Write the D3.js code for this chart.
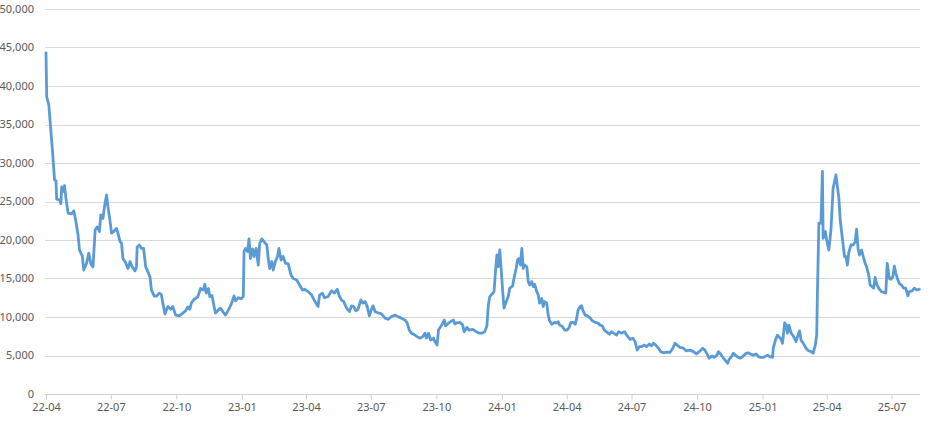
<!DOCTYPE html>
<html><head><meta charset="utf-8">
<script src="https://cdn.jsdelivr.net/npm/d3@7"></script>
<style>html,body{margin:0;padding:0;background:#fff;} svg{display:block;font-family:"Noto Sans",sans-serif;}</style>
</head><body>
<svg id="chart" width="930" height="423"></svg>
<script>
const data2022 = [["2022-04-01",44300],["2022-04-02",38600],["2022-04-05",37500],["2022-04-07",35150],["2022-04-10",31700],["2022-04-13",27800],["2022-04-15",27700],["2022-04-16",25300],["2022-04-20",25200],["2022-04-22",24700],["2022-04-23",26900],["2022-04-25",26300],["2022-04-27",27050],["2022-04-29",25400],["2022-05-02",23500],["2022-05-07",23400],["2022-05-10",23800],["2022-05-13",22400],["2022-05-16",20650],["2022-05-18",18700],["2022-05-22",17900],["2022-05-24",16100],["2022-05-28",17000],["2022-05-31",18300],["2022-06-03",16900],["2022-06-06",16500],["2022-06-09",21300],["2022-06-12",21700],["2022-06-15",21100],["2022-06-17",23250],["2022-06-20",22800],["2022-06-22",24300],["2022-06-25",25850],["2022-06-27",24300],["2022-06-30",22400],["2022-07-02",20900],["2022-07-05",21100],["2022-07-09",21500],["2022-07-11",20900],["2022-07-14",19800],["2022-07-16",19600],["2022-07-18",17600],["2022-07-22",17000],["2022-07-25",16300],["2022-07-28",17200],["2022-07-31",16500],["2022-08-04",16000],["2022-08-06",16500],["2022-08-07",19100],["2022-08-10",19350],["2022-08-13",18900],["2022-08-16",18900],["2022-08-19",16500],["2022-08-22",15900],["2022-08-25",15200],["2022-08-27",13500],["2022-08-31",12700],["2022-09-03",12700],["2022-09-07",13100],["2022-09-10",12900],["2022-09-12",11800],["2022-09-15",10400],["2022-09-19",11350],["2022-09-23",11000],["2022-09-26",11350],["2022-09-30",10250],["2022-10-05",10150],["2022-10-10",10500],["2022-10-14",10800],["2022-10-17",11300],["2022-10-20",11000],["2022-10-22",11800],["2022-10-26",12300],["2022-10-31",12600],["2022-11-04",13700],["2022-11-08",13500],["2022-11-10",14250],["2022-11-12",13100],["2022-11-15",13700],["2022-11-17",12650],["2022-11-20",12800],["2022-11-23",11350],["2022-11-25",10500],["2022-11-29",10900],["2022-12-02",11150],["2022-12-06",10600],["2022-12-09",10250],["2022-12-13",10900],["2022-12-17",11650],["2022-12-21",12750],["2022-12-23",12100],["2022-12-27",12500],["2022-12-31",12350]];

const data2023 = [["2023-01-03",12650],["2023-01-04",18500],["2023-01-06",18900],["2023-01-09",18500],["2023-01-11",20150],["2023-01-13",17600],["2023-01-16",18850],["2023-01-18",17850],["2023-01-21",18900],["2023-01-24",16750],["2023-01-26",19550],["2023-01-29",20150],["2023-02-01",19800],["2023-02-05",19350],["2023-02-07",17600],["2023-02-09",16300],["2023-02-12",17200],["2023-02-14",16100],["2023-02-17",17200],["2023-02-20",17850],["2023-02-22",18900],["2023-02-25",17400],["2023-02-28",17850],["2023-03-03",17000],["2023-03-07",16900],["2023-03-11",15450],["2023-03-14",15000],["2023-03-19",14800],["2023-03-23",14150],["2023-03-27",13500],["2023-03-30",13600],["2023-04-04",13300],["2023-04-09",12850],["2023-04-13",12100],["2023-04-18",11350],["2023-04-20",12850],["2023-04-24",13100],["2023-04-27",12500],["2023-05-02",12650],["2023-05-07",13400],["2023-05-11",13100],["2023-05-15",13600],["2023-05-18",12650],["2023-05-21",12200],["2023-05-24",12000],["2023-05-28",11150],["2023-06-01",10700],["2023-06-04",11450],["2023-06-07",11350],["2023-06-10",10800],["2023-06-13",11000],["2023-06-17",12200],["2023-06-20",11800],["2023-06-23",12000],["2023-06-26",11350],["2023-06-29",10150],["2023-07-02",11000],["2023-07-04",11450],["2023-07-07",10700],["2023-07-11",10550],["2023-07-16",10400],["2023-07-21",9850],["2023-07-25",9700],["2023-07-30",10050],["2023-08-04",10250],["2023-08-08",10050],["2023-08-13",9850],["2023-08-18",9600],["2023-08-21",9250],["2023-08-24",8300],["2023-08-27",7900],["2023-09-01",7650],["2023-09-04",7450],["2023-09-08",7250],["2023-09-12",7450],["2023-09-15",7900],["2023-09-17",7250],["2023-09-20",7900],["2023-09-23",7000],["2023-09-27",7250],["2023-09-29",6800],["2023-10-02",6350],["2023-10-04",8300],["2023-10-07",8750],["2023-10-10",9200],["2023-10-12",9600],["2023-10-14",8850],["2023-10-18",9200],["2023-10-21",9400],["2023-10-25",9600],["2023-10-27",9100],["2023-10-30",9250],["2023-11-03",9300],["2023-11-07",8950],["2023-11-09",8100],["2023-11-13",8650],["2023-11-16",8300],["2023-11-21",8400],["2023-11-26",8100],["2023-11-30",7900],["2023-12-04",7900],["2023-12-08",8100],["2023-12-11",8850],["2023-12-13",11550],["2023-12-15",12650],["2023-12-18",12950],["2023-12-21",13300],["2023-12-23",15900],["2023-12-25",18050],["2023-12-27",16550],["2023-12-29",18700],["2023-12-31",16300]];

const data2024 = [["2024-01-02",13500],["2024-01-04",11150],["2024-01-08",12200],["2024-01-10",12650],["2024-01-12",13750],["2024-01-16",14000],["2024-01-18",15000],["2024-01-21",16300],["2024-01-23",17400],["2024-01-25",17600],["2024-01-27",16750],["2024-01-29",18900],["2024-01-31",16300],["2024-02-02",16750],["2024-02-05",16550],["2024-02-07",14600],["2024-02-09",14150],["2024-02-12",14600],["2024-02-14",13950],["2024-02-16",14250],["2024-02-19",13300],["2024-02-21",12850],["2024-02-23",11800],["2024-02-26",12400],["2024-02-28",11350],["2024-03-01",12000],["2024-03-04",11800],["2024-03-06",10250],["2024-03-08",9500],["2024-03-11",9050],["2024-03-15",9300],["2024-03-18",9200],["2024-03-20",9400],["2024-03-22",8950],["2024-03-26",8750],["2024-03-29",8300],["2024-04-01",8300],["2024-04-04",8550],["2024-04-07",9300],["2024-04-10",9300],["2024-04-13",9050],["2024-04-15",9850],["2024-04-17",10900],["2024-04-20",11350],["2024-04-22",11450],["2024-04-24",10800],["2024-04-27",10250],["2024-04-30",10150],["2024-05-04",9850],["2024-05-07",9500],["2024-05-11",9300],["2024-05-15",9200],["2024-05-18",8950],["2024-05-21",8850],["2024-05-24",8300],["2024-05-28",8000],["2024-05-31",7750],["2024-06-03",8100],["2024-06-06",7900],["2024-06-10",7650],["2024-06-13",8100],["2024-06-17",7900],["2024-06-21",8100],["2024-06-25",7550],["2024-06-29",7100],["2024-07-03",7250],["2024-07-06",6800],["2024-07-09",5700],["2024-07-12",6150],["2024-07-15",6150],["2024-07-19",6350],["2024-07-22",6150],["2024-07-26",6500],["2024-07-29",6250],["2024-08-01",6600],["2024-08-04",6350],["2024-08-08",5950],["2024-08-11",5500],["2024-08-15",5350],["2024-08-19",5450],["2024-08-24",5400],["2024-08-28",5950],["2024-08-31",6600],["2024-09-03",6350],["2024-09-07",6050],["2024-09-12",5950],["2024-09-16",5600],["2024-09-21",5700],["2024-09-26",5500],["2024-09-30",5200],["2024-10-04",5500],["2024-10-09",5950],["2024-10-12",5700],["2024-10-16",5050],["2024-10-18",4650],["2024-10-22",4950],["2024-10-25",4750],["2024-10-29",5050],["2024-10-31",5500],["2024-11-03",5200],["2024-11-07",4650],["2024-11-11",4200],["2024-11-13",4000],["2024-11-15",4500],["2024-11-19",4950],["2024-11-21",5300],["2024-11-25",4950],["2024-11-28",4750],["2024-12-01",4650],["2024-12-05",4950],["2024-12-09",5300],["2024-12-12",5350],["2024-12-15",5200],["2024-12-19",5050],["2024-12-23",5200],["2024-12-26",4850],["2024-12-29",4750]];

const data2025 = [["2025-01-02",4750],["2025-01-06",4950],["2025-01-08",5050],["2025-01-11",4850],["2025-01-15",4750],["2025-01-16",5950],["2025-01-19",7000],["2025-01-22",7650],["2025-01-26",7250],["2025-01-29",6600],["2025-02-01",9250],["2025-02-03",8950],["2025-02-05",7900],["2025-02-07",8950],["2025-02-10",7900],["2025-02-13",7550],["2025-02-17",6800],["2025-02-19",7450],["2025-02-22",8200],["2025-02-24",7000],["2025-02-27",6600],["2025-03-03",5950],["2025-03-06",5650],["2025-03-10",5500],["2025-03-13",5300],["2025-03-16",6350],["2025-03-18",7650],["2025-03-19",13100],["2025-03-21",22200],["2025-03-24",22200],["2025-03-26",28900],["2025-03-27",20200],["2025-03-30",21100],["2025-04-01",20000],["2025-04-04",18700],["2025-04-07",21300],["2025-04-10",26700],["2025-04-14",28450],["2025-04-17",26250],["2025-04-18",25600],["2025-04-20",22600],["2025-04-23",20200],["2025-04-26",17850],["2025-04-28",17850],["2025-04-30",16750],["2025-05-02",18350],["2025-05-05",19350],["2025-05-08",19350],["2025-05-11",19750],["2025-05-13",21400],["2025-05-15",18900],["2025-05-17",18050],["2025-05-20",18700],["2025-05-23",17600],["2025-05-25",16950],["2025-05-27",16550],["2025-05-30",15450],["2025-06-01",14150],["2025-06-03",14000],["2025-06-06",13750],["2025-06-08",15150],["2025-06-10",14300],["2025-06-13",13750],["2025-06-15",13500],["2025-06-17",13300],["2025-06-20",13200],["2025-06-23",13100],["2025-06-25",16950],["2025-06-28",15000],["2025-06-30",14900],["2025-07-03",15250],["2025-07-05",16600],["2025-07-07",15700],["2025-07-10",14800],["2025-07-12",14350],["2025-07-15",14150],["2025-07-18",13750],["2025-07-21",13750],["2025-07-24",12750],["2025-07-26",13300],["2025-07-30",13400],["2025-08-02",13750],["2025-08-06",13500],["2025-08-09",13600]];

const yTickValues = [0, 5000, 10000, 15000, 20000, 25000, 30000, 35000, 40000, 45000, 50000];
const xTickLabels = ["22-04","22-07","22-10","23-01","23-04","23-07","23-10","24-01","24-04","24-07","24-10","25-01","25-04","25-07"];
const xDomain = ["2022-04-01", "2025-08-10"];

const parse = d3.timeParse("%Y-%m-%d");
const parseTick = d3.timeParse("%y-%m");
const series = [...data2022, ...data2023, ...data2024, ...data2025].map(([d, v]) => ({date: parse(d), value: v}));

const svg = d3.select("#chart");
const x = d3.scaleTime().domain(xDomain.map(parse)).range([46, 920]);
const y = d3.scaleLinear().domain([0, 50000]).range([394, 9]);

// gridlines
svg.append("g").selectAll("line").data(yTickValues.filter(v => v > 0)).join("line")
  .attr("x1", 45).attr("x2", 920)
  .attr("y1", d => Math.round(y(d)) + 0.5).attr("y2", d => Math.round(y(d)) + 0.5)
  .attr("stroke", "#d9d9d9").attr("stroke-width", 1);

// y labels
svg.append("g").selectAll("text").data(yTickValues).join("text")
  .attr("x", 34).attr("y", d => y(d)).attr("dy", "0.32em")
  .attr("text-anchor", "end").attr("fill", "#595959").attr("font-size", 11)
  .text(d => d3.format(",")(d));

// x axis
const xAxis = d3.axisBottom(x)
  .tickValues(xTickLabels.map(parseTick))
  .tickFormat(d3.timeFormat("%y-%m"))
  .tickSize(5).tickPadding(4).tickSizeOuter(0);
const gx = svg.append("g").attr("transform", `translate(0,${Math.round(y(0)) + 0.5})`).call(xAxis);
gx.select(".domain").attr("stroke", "#d0d0d0").attr("d", "M45,0H920");
gx.selectAll(".tick line").attr("stroke", "#d0d0d0");
gx.selectAll(".tick text").attr("fill", "#595959").attr("font-size", 11).attr("font-family", "Noto Sans, sans-serif");

// line
const line = d3.line().x(d => x(d.date)).y(d => y(d.value));
svg.append("path").datum(series)
  .attr("d", line).attr("fill", "none")
  .attr("stroke", "#5B9BD5").attr("stroke-width", 2.8)
  .attr("stroke-linejoin", "round").attr("stroke-linecap", "round");
</script>
</body></html>
